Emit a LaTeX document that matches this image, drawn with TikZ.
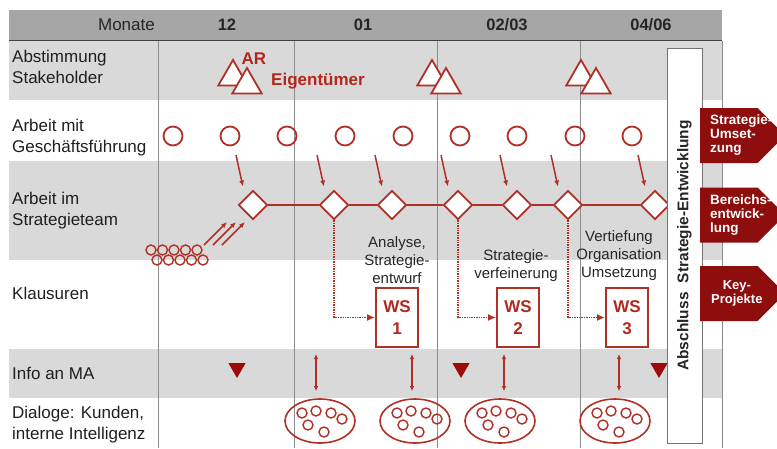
\documentclass[tikz,border=0pt]{standalone}
\usepackage{fontspec}
\setmainfont{Liberation Sans}
\usepackage{xcolor}
\usetikzlibrary{positioning, arrows.meta, shapes.geometric, shapes.symbols, calc}
\definecolor{hdrgray}{RGB}{166,166,166}
\definecolor{bandgray}{RGB}{217,217,217}
\definecolor{linered}{RGB}{176,48,38}
\definecolor{darkred}{RGB}{142,14,14}
\definecolor{trired}{RGB}{158,10,10}
\definecolor{wsred}{RGB}{178,40,30}

\begin{document}
\begin{tikzpicture}[x=1pt, y=-1pt,
  rowlabel/.style={anchor=west, align=left, inner sep=0pt, font=\fontsize{17}{21}\selectfont, text=black!88},
  monthlabel/.style={font=\fontsize{16.5}{20}\selectfont\bfseries, text=black!85},
  gfcircle/.style={circle, draw=linered, line width=1.8pt, minimum size=19pt, inner sep=0pt},
  teamdiamond/.style={diamond, draw=linered, line width=1.8pt, fill=white, minimum size=29pt, inner sep=0pt},
  shtri/.style={regular polygon, regular polygon sides=3, draw=linered, line width=1.8pt, fill=white, minimum size=34pt, inner sep=0pt},
  matri/.style={regular polygon, regular polygon sides=3, shape border rotate=180, fill=trired, minimum size=20pt, inner sep=0pt},
  wsbox/.style={rectangle, draw=linered, line width=2pt, fill=white, minimum width=42pt, minimum height=59pt, align=center, text=wsred, font=\fontsize{17}{22}\selectfont\bfseries},
  dlgellipse/.style={ellipse, draw=linered, line width=1.6pt, minimum width=70pt, minimum height=44pt, inner sep=0pt},
  smallcircle/.style={circle, draw=linered, line width=1.4pt, minimum size=10pt, inner sep=0pt},
  phase/.style={align=center, inner sep=0pt, font=\fontsize{15}{18}\selectfont, text=black!85},
  redlabel/.style={inner sep=0pt, text=wsred, font=\fontsize{17}{20}\selectfont\bfseries},
  outarrow/.style={signal, signal to=east, fill=darkred, minimum width=85pt, minimum height=55pt, inner sep=0pt},
  outtext/.style={align=left, inner sep=0pt, text=white, font=\fontsize{13.5}{14}\selectfont\bfseries},
  arr/.style={-{Latex[length=6pt,width=5pt]}, draw=linered, line width=1.5pt},
  dotarr/.style={-{Latex[length=8pt,width=7pt]}, draw=linered, line width=1.4pt, densely dotted},
  dblarr/.style={{Latex[length=5pt,width=4.5pt]}-{Latex[length=5pt,width=4.5pt]}, draw=linered, line width=1.4pt},
  monthline/.style={draw=black!45, line width=0.8pt}
]
\useasboundingbox (0,0) rectangle (777,448);
\clip (0,0) rectangle (777,448);

% bands and header
\fill[bandgray] (9,41) rectangle (722,100);
\fill[bandgray] (9,161) rectangle (722,260);
\fill[bandgray] (9,349) rectangle (722,398);
\fill[hdrgray] (9,10) rectangle (722,40);
\draw[black!75, line width=1pt] (9,40.5) -- (722,40.5);
\foreach \x in {158,294,437,580,722}
  \draw[monthline] (\x,41) -- (\x,448);

% header
\node[anchor=east, inner sep=0pt, font=\fontsize{17}{20}\selectfont, text=black!85] (monate) at (155,25) {Monate};
\node[monthlabel] (m12) at (227,25) {12};
\node[monthlabel] (m01) at (363,25) {01};
\node[monthlabel] (m0203) at (507,25) {02/03};
\node[monthlabel] (m0406) at (651,25) {04/06};

% row labels
\node[rowlabel] (lab1) at (12,67) {Abstimmung\\Stakeholder};
\node[rowlabel] (lab2) at (12,138) {Arbeit mit\\Geschäftsführung};
\node[rowlabel] (lab3) at (12,211) {Arbeit im\\Strategieteam};
\node[rowlabel] (lab4) at (12,293) {Klausuren};
\node[rowlabel] (lab5) at (12,373) {Info an MA};
\node[rowlabel] (lab6) at (12,425) {Dialoge: Kunden,\\interne Intelligenz};

% stakeholder
\node[shtri] (sh1a) at (233,77) {};
\node[shtri] (sh1b) at (247,85) {};
\node[shtri] (sh2a) at (432,77) {};
\node[shtri] (sh2b) at (446,85) {};
\node[shtri] (sh3a) at (581,77) {};
\node[shtri] (sh3b) at (596,85) {};
\node[redlabel] (ar) at (254,59) {AR};
\node[redlabel] (eig) at (318,81) {Eigentümer};

% Geschaeftsfuehrung
\foreach \i/\x in {1/173,2/230,3/287,4/345,5/403,6/460,7/517,8/575,9/632}
  \node[gfcircle] (gf\i) at (\x,136) {};

% Strategieteam
\node[teamdiamond] (st1) at (253,205) {};
\node[teamdiamond] (st2) at (334,205) {};
\node[teamdiamond] (st3) at (392,205) {};
\node[teamdiamond] (st4) at (458,205) {};
\node[teamdiamond] (st5) at (517,205) {};
\node[teamdiamond] (st6) at (568,205) {};
\node[teamdiamond] (st7) at (655,205) {};
\draw[linered, line width=1.6pt] (st1) -- (st2) -- (st3) -- (st4) -- (st5) -- (st6) -- (st7);
\foreach \s in {st1,st2,st3,st4,st5,st6,st7}
  \draw[arr, shorten >=11pt] ($(\s)+(-17,-50)$) -- (\s.north west);

\foreach \i in {0,...,4} {
  \node[smallcircle] (tm\i) at (151+11.5*\i,250) {};
  \node[smallcircle] (tn\i) at (157+11.5*\i,260) {};
}
\foreach \dx in {-49,-40,-31}
  \draw[arr] ($(st1)+(\dx,40)$) -- ($(st1)+(\dx+23,17)$);

% Klausuren
\node[phase] (ph1) at (397,260) {Analyse,\\Strategie-\\entwurf};
\node[phase] (ph2) at (516,266) {Strategie-\\verfeinerung};
\node[phase] (ph3) at (619,256) {Vertiefung\\Organisation\\Umsetzung};
\node[wsbox] (ws1) at (397,317.5) {WS\\1};
\node[wsbox] (ws2) at (518,317.5) {WS\\2};
\node[wsbox] (ws3) at (627,317.5) {WS\\3};
\draw[dotarr] (st2.south) |- (ws1.west);
\draw[dotarr] (st4.south) |- (ws2.west);
\draw[dotarr] (st6.south) |- (ws3.west);

% Info an MA
\node[matri] (ma1) at (237,368) {};
\node[matri] (ma2) at (461,368) {};
\node[matri] (ma3) at (659,368) {};

% Dialoge
\foreach \i/\x/\ax in {1/320/316,2/415/412,3/500/504,4/615/619} {
  \node[dlgellipse] (dlg\i) at (\x,421) {};
  \foreach \ox/\oy [count=\k] in {-18/-8,-4/-10,11/-8,22/-2,-12/4,4/11}
    \node[smallcircle] (dlg\i p\k) at ($(dlg\i)+(\ox,\oy)$) {};
  \coordinate (info\i) at (\ax,354);
  \draw[dblarr, shorten >=7pt] (info\i) -- (info\i |- dlg\i.north);
}

% Abschluss
\node[rectangle, draw=black!55, line width=0.9pt, fill=white, rotate=90, minimum width=395pt, minimum height=35pt, inner sep=0pt, font=\fontsize{15.5}{18}\selectfont\bfseries, text=black!85] (abschluss) at (684.5,245.5) {Abschluss\hspace{0.6em}Strategie-Entwicklung};

% Ergebnisse
\node[outarrow, anchor=west] (out1) at (700,135.5) {};
\node[outarrow, anchor=west] (out2) at (700,215) {};
\node[outarrow, anchor=west] (out3) at (700,293.5) {};
\node[outtext, right=10pt of out1.west] (out1t) {Strategie-\\Umset-\\zung};
\node[outtext, right=10pt of out2.west] (out2t) {Bereichs-\\entwick-\\lung};
\node[outtext, align=center, right=11pt of out3.west, font=\fontsize{13}{14}\selectfont\bfseries] (out3t) {Key-\\Projekte};
\end{tikzpicture}
\end{document}
